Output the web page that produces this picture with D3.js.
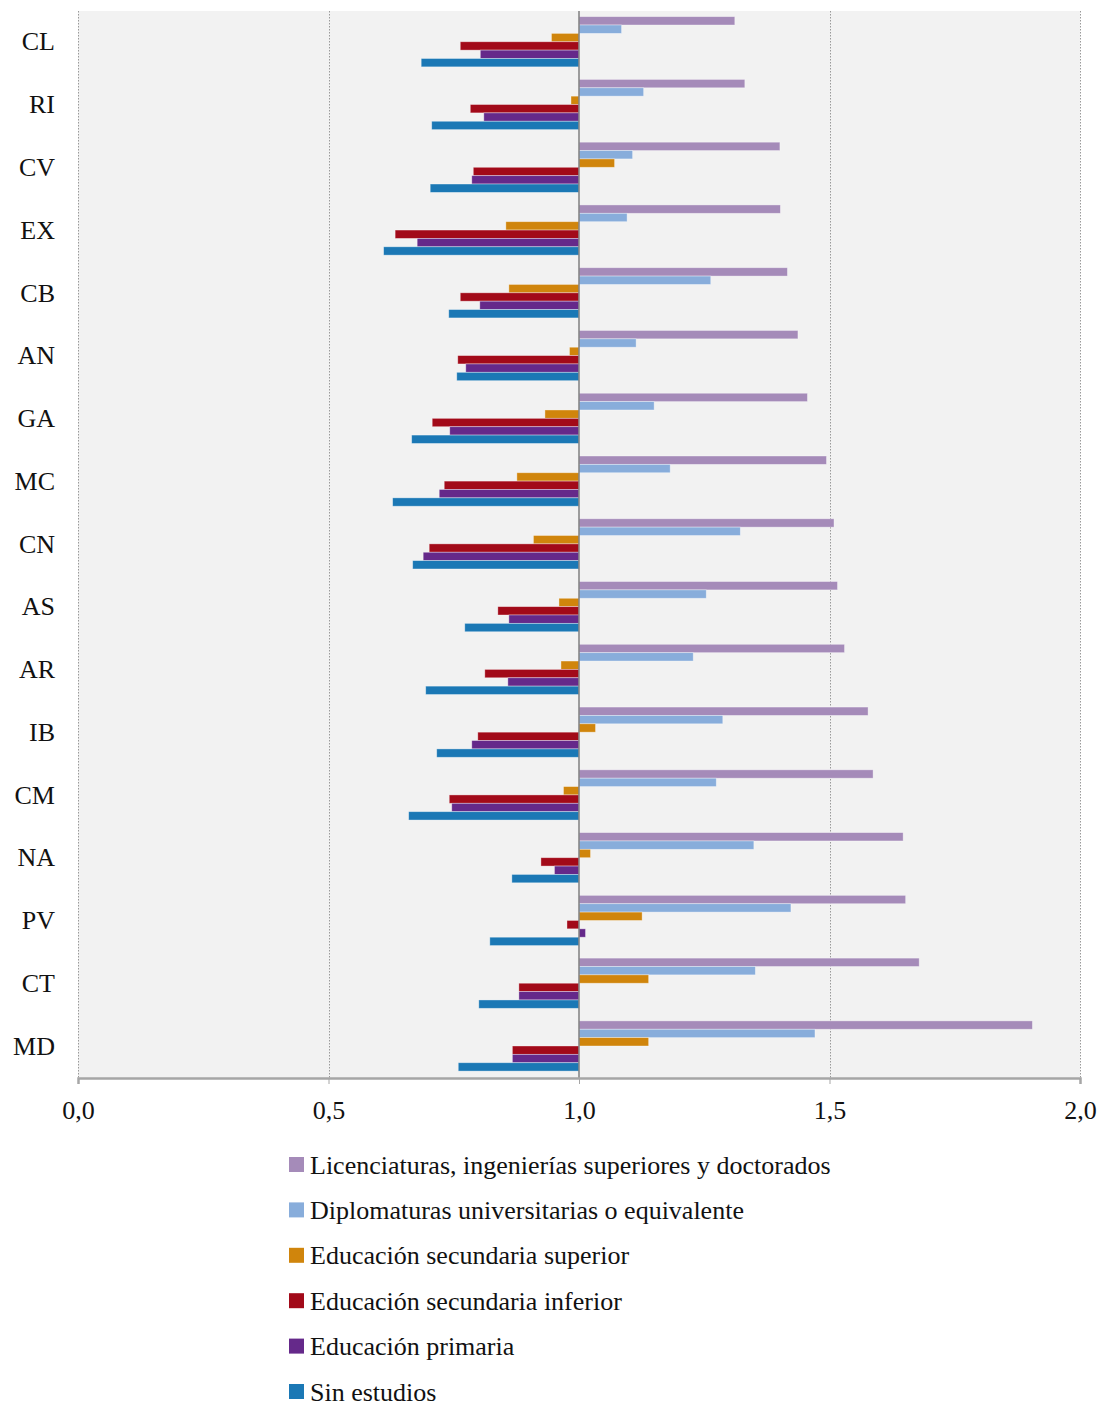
<!DOCTYPE html>
<html>
<head>
<meta charset="utf-8">
<script src="https://cdn.jsdelivr.net/npm/d3@7"></script>
<style>
  html, body { margin: 0; padding: 0; background: #ffffff; }
  svg { display: block; }
  text { font-family: "Liberation Serif", "DejaVu Serif", serif; fill: #111; }
</style>
</head>
<body>
<svg id="chart" width="1101" height="1407"></svg>
<script>
// ---- data ----
const categories = ["CL","RI","CV","EX","CB","AN","GA","MC","CN","AS","AR","IB","CM","NA","PV","CT","MD"];
const seriesNames = [
  "Licenciaturas, ingenierías superiores y doctorados",
  "Diplomaturas universitarias o equivalente",
  "Educación secundaria superior",
  "Educación secundaria inferior",
  "Educación primaria",
  "Sin estudios"
];
const licenciaturas = [1.311,1.331,1.401,1.402,1.416,1.437,1.456,1.494,1.509,1.516,1.530,1.577,1.587,1.647,1.652,1.679,1.905];
const diplomaturas  = [1.085,1.129,1.107,1.096,1.263,1.114,1.150,1.182,1.322,1.254,1.228,1.287,1.274,1.349,1.423,1.352,1.471];
const secSuperior   = [0.945,0.984,1.071,0.854,0.860,0.981,0.932,0.876,0.909,0.960,0.964,1.033,0.969,1.023,1.126,1.139,1.139];
const secInferior   = [0.763,0.783,0.789,0.633,0.763,0.758,0.707,0.731,0.701,0.838,0.812,0.798,0.741,0.924,0.976,0.880,0.867];
const primaria      = [0.803,0.810,0.786,0.677,0.802,0.774,0.742,0.721,0.689,0.860,0.858,0.786,0.746,0.951,1.013,0.880,0.867];
const sinEstudios   = [0.685,0.706,0.703,0.610,0.740,0.756,0.666,0.628,0.668,0.772,0.694,0.716,0.660,0.866,0.822,0.800,0.759];
const xTicks = [0, 0.5, 1.0, 1.5, 2.0];
const xTickLabels = ["0,0","0,5","1,0","1,5","2,0"];
const colors = ["#a58bb9","#88addb","#d0850c","#a20a19","#65298a","#1b78b5"];
const baselineValue = 1.0;

const seriesValues = [licenciaturas, diplomaturas, secSuperior, secInferior, primaria, sinEstudios];

// ---- layout ----
const svg = d3.select("#chart");
const plot = { left: 78, right: 1080, top: 11, bottom: 1078 };
const fontSize = 26;

const x = d3.scaleLinear().domain([0, 2]).range([plot.left, plot.right]);
const y0 = d3.scaleBand().domain(categories).range([plot.top, plot.bottom]).paddingInner(0).paddingOuter(0);
const step = y0.bandwidth();
const y1 = d3.scaleBand().domain(d3.range(seriesNames.length))
  .range([step * 0.09, step * 0.89]).padding(0);

// background
svg.append("rect")
  .attr("x", plot.left).attr("y", plot.top)
  .attr("width", plot.right - plot.left).attr("height", plot.bottom - plot.top)
  .attr("fill", "#f2f2f2");

// grid lines (dotted), except at baseline
svg.append("g").selectAll("line")
  .data(xTicks.filter(t => t !== baselineValue))
  .join("line")
  .attr("x1", d => Math.round(x(d)) + 0.5).attr("x2", d => Math.round(x(d)) + 0.5)
  .attr("y1", plot.top).attr("y2", plot.bottom)
  .attr("stroke", "#9a9a9a").attr("stroke-width", 1)
  .attr("stroke-dasharray", "1.5,1.5");

// bars
const rows = [];
categories.forEach((c, i) => {
  seriesValues.forEach((arr, s) => rows.push({ cat: c, s: s, v: arr[i] }));
});
svg.append("g").selectAll("rect")
  .data(rows)
  .join("rect")
  .attr("x", d => Math.min(x(baselineValue), x(d.v)))
  .attr("width", d => Math.abs(x(d.v) - x(baselineValue)))
  .attr("y", d => y0(d.cat) + y1(d.s))
  .attr("height", y1.bandwidth())
  .attr("fill", d => colors[d.s])
  .attr("stroke", "rgba(255,255,255,0.45)")
  .attr("stroke-width", 0.8);

// baseline at 1.0
svg.append("line")
  .attr("x1", x(baselineValue)).attr("x2", x(baselineValue))
  .attr("y1", plot.top).attr("y2", plot.bottom)
  .attr("stroke", "#7f7f7f").attr("stroke-width", 1.5);

// x axis
const xAxis = d3.axisBottom(x).tickValues(xTicks)
  .tickFormat((d, i) => xTickLabels[i]).tickSize(6).tickPadding(17);
const gx = svg.append("g").attr("transform", `translate(0,${plot.bottom})`).call(xAxis);
gx.select(".domain").attr("stroke", "#a6a6a6").attr("stroke-width", 2.5);
gx.selectAll(".tick line").attr("stroke", "#a6a6a6").attr("stroke-width", 1);
gx.selectAll(".tick text").attr("font-size", fontSize).attr("font-family", "Liberation Serif, serif").attr("fill", "#111");

// y labels
svg.append("g").selectAll("text")
  .data(categories)
  .join("text")
  .attr("x", 55)
  .attr("y", d => y0(d) + step / 2 - 1)
  .attr("dy", "0.35em")
  .attr("text-anchor", "end")
  .attr("font-size", fontSize)
  .text(d => d);

// legend
const legend = svg.append("g").attr("transform", "translate(289,1157)");
const lg = legend.selectAll("g").data(seriesNames).join("g")
  .attr("transform", (d, i) => `translate(0,${i * 45.4})`);
lg.append("rect").attr("width", 15).attr("height", 15).attr("fill", (d, i) => colors[i]);
lg.append("text").attr("x", 21).attr("y", 7.5).attr("dy", "0.35em")
  .attr("font-size", fontSize).text(d => d);
</script>
</body>
</html>
